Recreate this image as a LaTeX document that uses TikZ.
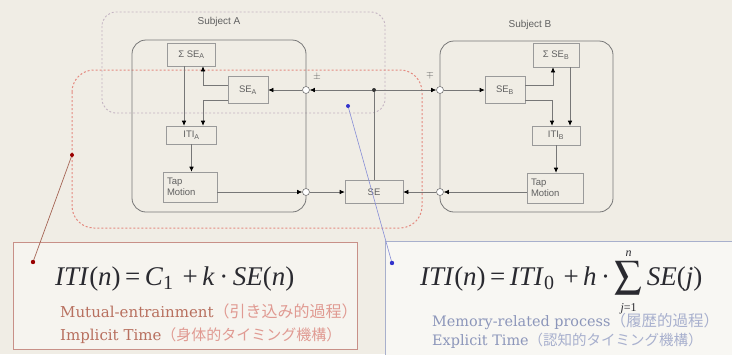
\documentclass[tikz,border=0pt]{standalone}
\usepackage{mathptmx}
\usepackage[no-math]{fontspec}
\setmainfont{Liberation Serif}
\setsansfont{Liberation Sans}
\newfontfamily\cjk{Noto Sans CJK JP}
\newfontfamily\wideserif{DejaVu Serif}
\usetikzlibrary{arrows.meta,calc}
\definecolor{bg}{HTML}{F0EDE5}
\definecolor{linegray}{HTML}{777777}
\definecolor{boxgray}{HTML}{9A9A9A}
\definecolor{txtgray}{HTML}{606060}
\definecolor{reddash}{HTML}{E48A80}
\definecolor{lilac}{HTML}{C4B4C2}
\definecolor{redbox}{HTML}{C89088}
\definecolor{bluebox}{HTML}{A8B0CC}
\definecolor{redtxt}{HTML}{B8705F}
\definecolor{redjp}{HTML}{E09A92}
\definecolor{bluetxt}{HTML}{8C96BA}
\definecolor{bluejp}{HTML}{A8B0CE}
\definecolor{eqtxt}{HTML}{2A2A30}
\tikzset{
  blk/.style={draw=boxgray, line width=0.6pt, inner sep=0pt, text=txtgray,
    font=\sffamily\fontsize{9.5}{11}\selectfont},
  tapbox/.style={blk, align=left, text width=#1, inner xsep=4pt},
  circ/.style={circle, draw=linegray, fill=white, line width=0.6pt, minimum size=7pt, inner sep=0pt},
  ln/.style={draw=linegray, line width=0.6pt},
  arr/.style={ln, -{Latex[length=5pt,width=4.5pt,color=black]}},
  lbl/.style={font=\sffamily\fontsize{10}{12}\selectfont, text=txtgray, inner sep=0pt},
  eq/.style={anchor=base west, inner sep=0pt, text=eqtxt, font=\rmfamily\fontsize{27}{30}\selectfont},
  txt/.style={anchor=base west, inner sep=0pt, font=\wideserif\fontsize{#1}{18}\selectfont},
}
\newcommand{\jp}[2]{{\cjk\fontsize{#1}{18}\selectfont （#2）}}
\newcommand{\iv}[1]{\textit{#1}\/}
\newcommand{\sumlim}[1]{\mbox{\rmfamily\fontsize{12}{12}\selectfont #1}}
\begin{document}
\begin{tikzpicture}[x=1pt,y=-1pt]
\useasboundingbox (0,0) rectangle (732,354);
\fill[bg] (0,0) rectangle (732,354);

% dashed regions
\draw[lilac, line width=0.9pt, dash pattern=on 2pt off 2pt, rounded corners=14pt] (102,12) rectangle (385,113);
\draw[reddash, line width=1pt, dash pattern=on 2pt off 2pt, rounded corners=22pt] (72,70) rectangle (422,228);

% subject frames
\draw[linegray, line width=0.8pt, rounded corners=14pt] (132,40) rectangle (306,212);
\draw[linegray, line width=0.8pt, rounded corners=14pt] (440,41) rectangle (613,212);
\node[lbl] (subA) at (219,22) {Subject A};
\node[lbl] (subB) at (530,25) {Subject B};

% blocks subject A
\node[blk, minimum width=48pt, minimum height=23pt] (sumA) at (191.5,54.5) {Σ SE\textsubscript{A}};
\node[blk, minimum width=40pt, minimum height=27pt] (seA) at (248,90) {SE\textsubscript{A}};
\node[blk, minimum width=50pt, minimum height=18pt] (itiA) at (191.5,135) {ITI\textsubscript{A}};
\node[tapbox=46pt, minimum height=30pt] (tapA) at (190,187) {Tap\\Motion};
% blocks subject B
\node[blk, minimum width=46pt, minimum height=24pt] (sumB) at (556,55) {Σ SE\textsubscript{B}};
\node[blk, minimum width=40pt, minimum height=27pt] (seB) at (505,90) {SE\textsubscript{B}};
\node[blk, minimum width=48pt, minimum height=19pt] (itiB) at (556,135.5) {ITI\textsubscript{B}};
\node[tapbox=48pt, minimum height=30pt] (tapB) at (555,188) {Tap\\Motion};
% shared
\node[blk, minimum width=58pt, minimum height=23pt] (se) at (374,192) {SE};

% junctions
\node[circ] (cA1) at (306,90) {};
\node[circ] (cA2) at (306,192) {};
\node[circ] (cB1) at (440,90) {};
\node[circ] (cB2) at (440,192) {};
\node[circle, fill=black!80, minimum size=4pt, inner sep=0pt] (junc) at (374,90) {};
\node[lbl] (pm) at (317,77) {$\pm$};
\node[lbl] (mp) at (430,75) {$\mp$};

% connectors
\draw[ln] (se) -- (junc);
\draw[arr] (junc) -- (cA1);
\draw[arr] (junc) -- (cB1);
\draw[arr] (cA1) -- (seA);
\draw[arr] (cB1) -- (seB);
\draw[arr] ($(seA.west)+(0,-5)$) -| ($(sumA.south)+(11.5,0)$);
\draw[arr] ($(seA.west)+(0,10)$) -| ($(itiA.north)+(11.5,0)$);
\draw[arr] ($(sumA.south)+(-7.5,0)$) -- ($(itiA.north)+(-7.5,0)$);
\draw[arr] (itiA.south) -- (itiA.south |- tapA.north);
\draw[arr] (tapA.east |- cA2) -- (cA2);
\draw[arr] (cA2) -- (se);
\draw[arr] (cB2) -- (se);
\draw[arr] (tapB.west |- cB2) -- (cB2);
\draw[arr] ($(seB.east)+(0,-5)$) -| ($(sumB.south)+(-3,0)$);
\draw[arr] ($(seB.east)+(0,10)$) -| ($(itiB.north)+(-4,0)$);
\draw[arr] ($(sumB.south)+(14,0)$) -- ($(itiB.north)+(14,0)$);
\draw[arr] (itiB.south) -- (itiB.south |- tapB.north);

% formula boxes
\draw[redbox, line width=0.8pt, fill=white!40!bg] (13,242) rectangle (357,349);
\draw[bluebox, line width=0.8pt, fill=white!55!bg] (385,241) rectangle (740,360);

% pointers
\coordinate (rA) at (72,155);
\coordinate (rB) at (33,262);
\coordinate (bA) at (348,106);
\coordinate (bB) at (392,263);
\draw[redtxt!90!black, line width=0.7pt] (rA) -- (rB);
\draw[bluebox!80!blue, line width=0.6pt] (bA) -- (bB);
\fill[red!60!black] (rA) circle (2pt) (rB) circle (2.2pt);
\fill[blue!60!gray] (bA) circle (2pt) (bB) circle (2.2pt);

% formulas
\node[eq] (eqL) at (55,285)
  {\iv{ITI}(\iv{n})\,=\,\iv{C}\textsubscript{1}\,\,+\,\iv{k}\,·\,\iv{SE}(\iv{n})};
\node[eq] (eqR) at (420,285)
  {\iv{ITI}(\iv{n})\,=\,\iv{ITI}\textsubscript{0}\,\,+\,\iv{h}\,·\,$\displaystyle\sum\limits_{\sumlim{\iv{j}=1}}^{\sumlim{\iv{n}}}$\,\iv{SE}(\iv{j})};

\node[txt=15] (tL1) at (60,317)
  {\textcolor{redtxt}{Mutual-entrainment}\textcolor{redjp}{\jp{16}{引き込み的過程}}};
\node[txt=15] (tL2) at (60,340)
  {\textcolor{redtxt}{Implicit Time}\textcolor{redjp}{\jp{15}{身体的タイミング機構}}};
\node[txt=14.4] (tR1) at (432,326)
  {\textcolor{bluetxt}{Memory-related process}\textcolor{bluejp}{\jp{15.5}{履歴的過程}}};
\node[txt=14.4] (tR2) at (432,345)
  {\textcolor{bluetxt}{Explicit Time}\textcolor{bluejp}{\jp{14.5}{認知的タイミング機構}}};
\end{tikzpicture}
\end{document}
